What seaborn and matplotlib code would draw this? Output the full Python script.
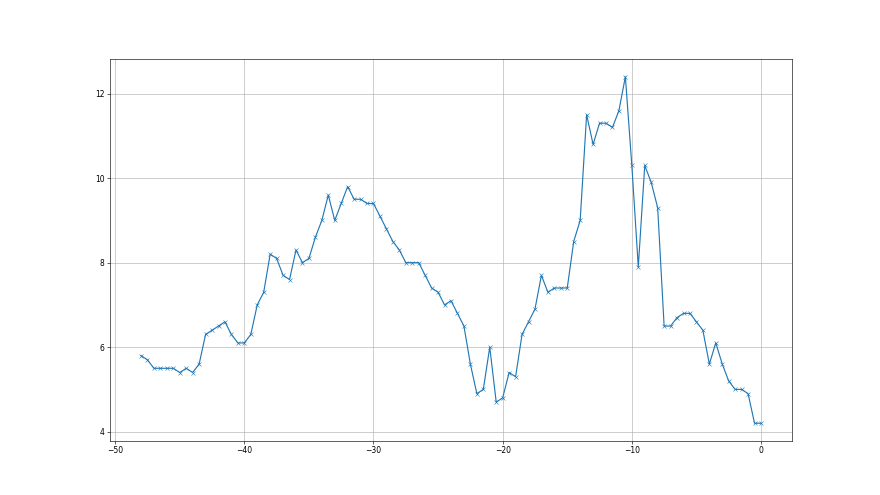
import numpy as np
import pandas as pd
import matplotlib
matplotlib.use('Agg')
import matplotlib.pyplot as plt
import seaborn as sns

# x positions (step 0.5) and values
x_vals = np.arange(-48, 0.5, 0.5)
y_vals = [5.8, 5.7, 5.5, 5.5, 5.5, 5.5, 5.4, 5.5, 5.4, 5.6,
          6.3, 6.4, 6.5, 6.6, 6.3, 6.1, 6.1, 6.3, 7.0, 7.3,
          8.2, 8.1, 7.7, 7.6, 8.3, 8.0, 8.1, 8.6, 9.0, 9.6,
          9.0, 9.4, 9.8, 9.5, 9.5, 9.4, 9.4, 9.1, 8.8, 8.5,
          8.3, 8.0, 8.0, 8.0, 7.7, 7.4, 7.3, 7.0, 7.1, 6.8,
          6.5, 5.6, 4.9, 5.0, 6.0, 4.7, 4.8, 5.4, 5.3, 6.3,
          6.6, 6.9, 7.7, 7.3, 7.4, 7.4, 7.4, 8.5, 9.0, 11.5,
          10.8, 11.3, 11.3, 11.2, 11.6, 12.4, 10.3, 7.9, 10.3, 9.9,
          9.3, 6.5, 6.5, 6.7, 6.8, 6.8, 6.6, 6.4, 5.6, 6.1,
          5.6, 5.2, 5.0, 5.0, 4.9, 4.2, 4.2]

df = pd.DataFrame({'x': x_vals, 'y': y_vals})

fig, ax = plt.subplots(figsize=(16, 9), dpi=55)
sns.lineplot(data=df, x='x', y='y', marker='x', color='tab:blue',
             markeredgecolor='tab:blue', markersize=6, ax=ax)
ax.set_xlabel('')
ax.set_ylabel('')
ax.set_xticks([-50, -40, -30, -20, -10, 0])
ax.set_yticks([4, 6, 8, 10, 12])
ax.grid(True)
plt.savefig('out.png', dpi=55)
